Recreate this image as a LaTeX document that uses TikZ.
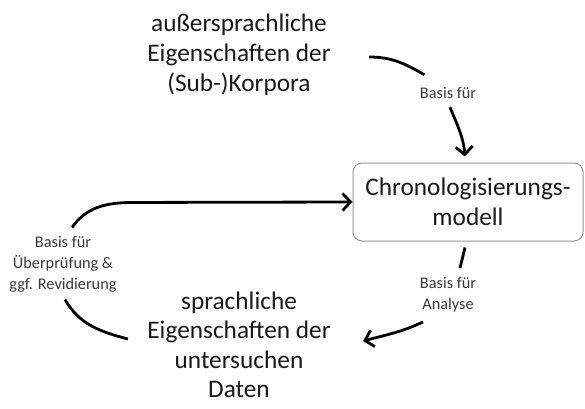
\documentclass[tikz,border=0pt]{standalone}
\usepackage{fontspec}
\setmainfont{Carlito}
\usetikzlibrary{positioning,calc,arrows.meta}
\colorlet{colorTXT}{black!90}
\colorlet{colorLBL}{black!78}
\colorlet{colorBOX}{gray!85}
\colorlet{colorLNK}{black}
\tikzset{
   every path/.style={>={Straight Barb[length=8pt,width=17pt]}},
   big/.style={align=center,inner ysep=0.5pt,text=colorTXT,font=\fontsize{25.3}{30}\selectfont},
   lbl/.style={align=center,text=colorLBL,font=\fontsize{16.3}{21}\selectfont},
   modelbox/.style={draw=colorBOX,line width=1pt,rounded corners=9pt,minimum width=230pt,minimum height=78pt},
   link/.style={-,color=colorLNK,line width=2.8pt},
   flow/.style={->,color=colorLNK,line width=2.8pt},
}

\begin{document}
\begin{tikzpicture}[x=1pt,y=1pt]
      \useasboundingbox (0,0) rectangle (585,408);

      \node (ext) [big] at (239,353)
        {außersprachliche\\Eigenschaften der\\(Sub-)Korpora};

      \node (ling) [big, below of = ext, node distance = 290pt, font=\fontsize{25.3}{29.5}\selectfont]
        % at (239,63)
        {sprachliche\\Eigenschaften der\\untersuchen\\Daten};

      \node (model) [modelbox, big] at (468,206)
        {Chronologisierungs-\\modell};

      \node (lblTop) [lbl] at (448,315) {Basis für};

      \node (lblAna) [lbl, below of = lblTop, node distance = 202pt]
        % at (448,113)
        {Basis für\\Analyse};

      \node (lblLeft) [lbl] at (63,144)
        {Basis für\\Überprüfung \&\\ggf. Revidierung};

      % ext -> model
      \draw[link] ([shift={(35,-2)}]ext.east) to[out=0,in=150] ([shift={(8,9)}]lblTop.north west);
      \draw[flow] ([shift={(2,-5)}]lblTop.south) to[out=-68,in=95] ([shift={(-3,6)}]model.north);

      % model -> ling
      \draw[link] ([shift={(-3,-6)}]model.south) -- ([shift={(12,6)}]lblAna.north);
      \draw[flow] ([shift={(-25,-6)}]lblAna.south) to[out=205,in=15] ([shift={(29,4)}]ling.east);

      % ling -> model
      \draw[link] ([shift={(-16,6)}]ling.west) to[out=165,in=-60] ([shift={(2,-4)}]lblLeft.south);
      \draw[flow] ([shift={(9,5)}]lblLeft.north) to[out=55,in=180] ++(62,25) -- (model.west);
\end{tikzpicture}
\end{document}
